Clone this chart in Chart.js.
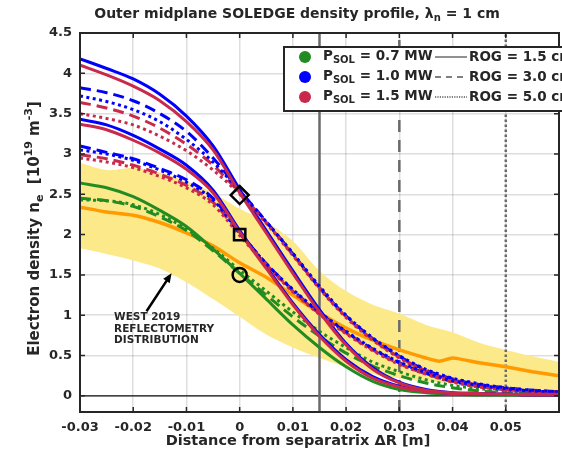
<!DOCTYPE html>
<html>
<head>
<meta charset="utf-8">
<script src="https://cdn.jsdelivr.net/npm/chart.js@4.4.1/dist/chart.umd.min.js"></script>
<style>
  html, body { margin: 0; padding: 0; background: #fff; }
  #wrap { width: 562px; height: 452px; position: relative; }
</style>
</head>
<body>
<div id="wrap"><canvas id="c" width="562" height="452"></canvas></div>
<script>
// x positions (m) of the simulated profiles
const xSim = [-0.03, -0.025, -0.02, -0.015, -0.01, -0.005, 0, 0.005, 0.01, 0.015, 0.02, 0.025, 0.03, 0.035, 0.04, 0.045, 0.05, 0.055, 0.06];

// P_SOL = 0.7 MW
const green15 = [2.64, 2.58, 2.47, 2.3, 2.1, 1.82, 1.52, 1.2, 0.88, 0.6, 0.36, 0.18, 0.08, 0.04, 0.02, 0.01, 0.01, 0.01, 0.01];
const green30 = [2.45, 2.42, 2.35, 2.22, 2.05, 1.8, 1.52, 1.25, 0.98, 0.74, 0.53, 0.37, 0.25, 0.16, 0.1, 0.06, 0.04, 0.03, 0.02];
const green50 = [2.43, 2.42, 2.37, 2.25, 2.07, 1.83, 1.56, 1.3, 1.04, 0.8, 0.6, 0.42, 0.3, 0.2, 0.13, 0.09, 0.06, 0.04, 0.03];

// P_SOL = 1.0 MW (upper set through the diamond, lower set through the square)
const blue15a = [4.18, 4.06, 3.93, 3.74, 3.47, 3.1, 2.56, 2.05, 1.55, 1.07, 0.65, 0.35, 0.17, 0.08, 0.04, 0.03, 0.02, 0.02, 0.02];
const blue30a = [3.82, 3.76, 3.66, 3.5, 3.28, 2.95, 2.55, 2.16, 1.76, 1.34, 0.99, 0.71, 0.49, 0.32, 0.21, 0.14, 0.1, 0.07, 0.05];
const blue50a = [3.72, 3.65, 3.55, 3.4, 3.18, 2.9, 2.54, 2.16, 1.77, 1.36, 1.0, 0.72, 0.5, 0.33, 0.22, 0.15, 0.1, 0.07, 0.05];
const blue15b = [3.43, 3.36, 3.23, 3.06, 2.86, 2.55, 2.05, 1.6, 1.15, 0.76, 0.45, 0.24, 0.12, 0.06, 0.03, 0.02, 0.02, 0.01, 0.01];
const blue30b = [3.1, 3.02, 2.94, 2.82, 2.68, 2.45, 2.03, 1.64, 1.31, 1.03, 0.79, 0.58, 0.41, 0.28, 0.18, 0.12, 0.08, 0.06, 0.05];
const blue50b = [3.05, 3.0, 2.92, 2.8, 2.65, 2.43, 2.02, 1.64, 1.32, 1.04, 0.8, 0.59, 0.42, 0.29, 0.19, 0.13, 0.09, 0.06, 0.05];

// P_SOL = 1.5 MW
const red15a = [4.1, 3.98, 3.84, 3.66, 3.4, 3.05, 2.52, 2.02, 1.52, 1.04, 0.63, 0.33, 0.16, 0.07, 0.04, 0.03, 0.02, 0.02, 0.02];
const red30a = [3.64, 3.57, 3.47, 3.32, 3.12, 2.86, 2.52, 2.15, 1.75, 1.34, 0.98, 0.7, 0.48, 0.31, 0.2, 0.13, 0.09, 0.06, 0.05];
const red50a = [3.5, 3.44, 3.36, 3.22, 3.04, 2.8, 2.5, 2.14, 1.74, 1.33, 0.97, 0.69, 0.47, 0.3, 0.19, 0.13, 0.09, 0.06, 0.05];
const red15b = [3.37, 3.3, 3.17, 3.01, 2.81, 2.52, 2.03, 1.58, 1.13, 0.74, 0.43, 0.22, 0.11, 0.05, 0.03, 0.02, 0.02, 0.01, 0.01];
const red30b = [2.99, 2.94, 2.86, 2.75, 2.61, 2.4, 2.01, 1.63, 1.3, 1.02, 0.78, 0.57, 0.4, 0.27, 0.18, 0.12, 0.08, 0.06, 0.05];
const red50b = [2.95, 2.9, 2.83, 2.72, 2.58, 2.37, 1.99, 1.62, 1.29, 1.01, 0.77, 0.56, 0.39, 0.27, 0.17, 0.11, 0.08, 0.06, 0.04];

// WEST 2019 reflectometry
const xRefl = [-0.03, -0.025, -0.02, -0.015, -0.01, -0.005, 0, 0.005, 0.01, 0.015, 0.02, 0.025, 0.03, 0.035, 0.0375, 0.04, 0.045, 0.05, 0.055, 0.06];
const reflMean = [2.34, 2.28, 2.24, 2.15, 2.02, 1.86, 1.65, 1.47, 1.25, 1.03, 0.84, 0.69, 0.57, 0.47, 0.43, 0.47, 0.41, 0.36, 0.3, 0.25];
const xBand = [-0.03, -0.025, -0.02, -0.015, -0.01, -0.005, 0, 0.005, 0.01, 0.015, 0.02, 0.025, 0.03, 0.035, 0.04, 0.045, 0.05, 0.055, 0.06];
const bandUpper = [2.89, 2.8, 2.83, 2.77, 2.66, 2.52, 2.32, 2.16, 1.92, 1.55, 1.3, 1.13, 1.02, 0.88, 0.79, 0.66, 0.57, 0.49, 0.42];
const bandLower = [1.83, 1.76, 1.68, 1.58, 1.41, 1.2, 0.98, 0.76, 0.6, 0.47, 0.36, 0.27, 0.22, 0.18, 0.15, 0.12, 0.1, 0.08, 0.06];

// separatrix density markers at x = 0
const markX = [0, 0, 0];
const markY = [2.49, 2.0, 1.5];
const markStyle = ['rectRot', 'rect', 'circle'];
const markSize = [9, 8, 7];

// ROG positions
const rogX = [0.015, 0.03, 0.05];

const xTicks = [-0.03, -0.02, -0.01, 0, 0.01, 0.02, 0.03, 0.04, 0.05];
const xTickLabels = ['-0.03', '-0.02', '-0.01', '0', '0.01', '0.02', '0.03', '0.04', '0.05'];
const yTicks = [0, 0.5, 1, 1.5, 2, 2.5, 3, 3.5, 4, 4.5];
const yTickLabels = ['0', '0.5', '1', '1.5', '2', '2.5', '3', '3.5', '4', '4.5'];

// arrow annotation (data coords)
const arrowFrom = [-0.0175, 1.05];
const arrowTo = [-0.0128, 1.52];
const noteLines = ['WEST 2019', 'REFLECTOMETRY', 'DISTRIBUTION'];

const GREEN = '#228b22', BLUE = '#0000ff', RED = '#c9294a', ORANGE = '#ff9b00', YELLOW = '#fce98a';
const FONT = "'DejaVu Sans', sans-serif";
const TXT = '#262626';
const SOLID = [], DASH = [11, 6], DOT = [3, 3.5];

const pts = (xs, ys) => xs.map((x, i) => ({ x, y: ys[i] }));
function curve(ys, color, dash, order) {
  return { data: pts(xSim, ys), borderColor: color, borderWidth: 3, borderDash: dash, borderCapStyle: 'butt',
    pointRadius: 0, tension: 0.35, cubicInterpolationMode: 'monotone', fill: false, order };
}

const datasets = [
  { data: pts(xBand, bandUpper), borderWidth: 0, pointRadius: 0, backgroundColor: YELLOW, fill: '+1', tension: 0.3, order: 100 },
  { data: pts(xBand, bandLower), borderWidth: 0, pointRadius: 0, fill: false, tension: 0.3, order: 101 },
  { data: [{ x: -0.03, y: 0 }, { x: 0.06, y: 0 }], borderColor: '#111', borderWidth: 1.2, pointRadius: 0, order: 90 },
  { data: [{ x: rogX[0], y: -0.2 }, { x: rogX[0], y: 4.5 }], borderColor: '#6a6a6a', borderWidth: 2.5, pointRadius: 0, order: 80 },
  { data: [{ x: rogX[1], y: -0.2 }, { x: rogX[1], y: 4.5 }], borderColor: '#6a6a6a', borderWidth: 2.5, borderDash: [12, 8], pointRadius: 0, order: 80 },
  { data: [{ x: rogX[2], y: -0.2 }, { x: rogX[2], y: 4.5 }], borderColor: '#6a6a6a', borderWidth: 2.5, borderDash: [2.5, 2.5], pointRadius: 0, order: 80 },
  { data: pts(xRefl, reflMean), borderColor: ORANGE, borderWidth: 3.5, pointRadius: 0, tension: 0.2, fill: false, order: 60 },
  curve(green15, GREEN, SOLID, 40), curve(green30, GREEN, DASH, 41), curve(green50, GREEN, DOT, 42),
  curve(blue15a, BLUE, SOLID, 30), curve(blue30a, BLUE, DASH, 31), curve(blue50a, BLUE, DOT, 22),
  curve(blue15b, BLUE, SOLID, 30), curve(blue30b, BLUE, DASH, 31), curve(blue50b, BLUE, DOT, 22),
  curve(red15a, RED, SOLID, 20), curve(red30a, RED, DASH, 25), curve(red50a, RED, DOT, 26),
  curve(red15b, RED, SOLID, 20), curve(red30b, RED, DASH, 25), curve(red50b, RED, DOT, 26),
  { data: pts(markX, markY), showLine: false, pointStyle: markStyle, pointRadius: markSize,
    pointBorderColor: '#000', pointBorderWidth: 2.5, pointBackgroundColor: 'rgba(0,0,0,0)', order: 1 },
];

// draw text with sub/superscripts: parts = [[text, 'n'|'sub'|'sup'], ...]
function richWidth(ctx, parts, size) {
  let w = 0;
  for (const [t, k] of parts) { ctx.font = `bold ${k === 'n' ? size : Math.round(size * 0.72)}px ${FONT}`; w += ctx.measureText(t).width; }
  return w;
}
function drawRich(ctx, parts, x, y, size, align) {
  let cx = align === 'center' ? x - richWidth(ctx, parts, size) / 2 : x;
  ctx.textBaseline = 'middle'; ctx.textAlign = 'left';
  for (const [t, k] of parts) {
    const s = k === 'n' ? size : Math.round(size * 0.72);
    ctx.font = `bold ${s}px ${FONT}`;
    const dy = k === 'sub' ? size * 0.35 : k === 'sup' ? -size * 0.38 : 0;
    ctx.fillText(t, cx, y + dy);
    cx += ctx.measureText(t).width;
  }
}

const decor = {
  id: 'decor',
  afterDraw(chart) {
    const { ctx, chartArea: a, scales: { x, y } } = chart;
    ctx.save();
    ctx.fillStyle = TXT; ctx.strokeStyle = TXT;
    // inward ticks
    ctx.lineWidth = 1.5;
    for (const v of xTicks) {
      const px = x.getPixelForValue(v);
      ctx.beginPath(); ctx.moveTo(px, a.bottom); ctx.lineTo(px, a.bottom - 5); ctx.moveTo(px, a.top); ctx.lineTo(px, a.top + 5); ctx.stroke();
    }
    for (const v of yTicks) {
      const py = y.getPixelForValue(v);
      ctx.beginPath(); ctx.moveTo(a.left, py); ctx.lineTo(a.left + 5, py); ctx.moveTo(a.right, py); ctx.lineTo(a.right - 5, py); ctx.stroke();
    }
    // box
    ctx.lineWidth = 2;
    ctx.strokeRect(a.left, a.top, a.right - a.left, a.bottom - a.top);

    // title
    drawRich(ctx, [['Outer midplane SOLEDGE density profile, \u03bb', 'n'], ['n', 'sub'], [' = 1 cm', 'n']], 297, 14, 14, 'center');
    // x title
    drawRich(ctx, [['Distance from separatrix \u0394R [m]', 'n']], 298, 441, 14.5, 'center');
    // y title
    ctx.save();
    ctx.translate(35, (a.top + a.bottom) / 2 + 6);
    ctx.rotate(-Math.PI / 2);
    drawRich(ctx, [['Electron density n', 'n'], ['e', 'sub'], ['  [10', 'n'], ['19', 'sup'], [' m', 'n'], ['-3', 'sup'], [']', 'n']], 0, 0, 15, 'center');
    ctx.restore();

    // arrow + note
    const ax0 = x.getPixelForValue(arrowFrom[0]), ay0 = y.getPixelForValue(arrowFrom[1]);
    const ax1 = x.getPixelForValue(arrowTo[0]), ay1 = y.getPixelForValue(arrowTo[1]);
    const ang = Math.atan2(ay1 - ay0, ax1 - ax0);
    ctx.fillStyle = '#000'; ctx.strokeStyle = '#000'; ctx.lineWidth = 2.5;
    ctx.beginPath(); ctx.moveTo(ax0, ay0); ctx.lineTo(ax1 - 7 * Math.cos(ang), ay1 - 7 * Math.sin(ang)); ctx.stroke();
    ctx.beginPath(); ctx.moveTo(ax1, ay1);
    ctx.lineTo(ax1 - 10 * Math.cos(ang - 0.4), ay1 - 10 * Math.sin(ang - 0.4));
    ctx.lineTo(ax1 - 10 * Math.cos(ang + 0.4), ay1 - 10 * Math.sin(ang + 0.4));
    ctx.closePath(); ctx.fill();
    ctx.fillStyle = TXT;
    noteLines.forEach((t, i) => {
      ctx.font = `bold 10.5px ${FONT}`; ctx.textAlign = 'left'; ctx.textBaseline = 'middle';
      ctx.fillText(t, x.getPixelForValue(-0.0236), y.getPixelForValue(0.97) + i * 11.5);
    });

    // legend
    const lx = 284, ly = 47;
    ctx.fillStyle = '#fff';
    ctx.fillRect(lx, ly, 300, 64);
    ctx.lineWidth = 2; ctx.strokeStyle = TXT;
    ctx.strokeRect(lx, ly, 300, 64);
    const powers = [['0.7', GREEN], ['1.0', BLUE], ['1.5', RED]];
    const rogs = [['1.5', SOLID], ['3.0', [6, 5]], ['5.0', [1.2, 1.2]]];
    powers.forEach(([p, col], i) => {
      const ry = 57 + i * 20;
      ctx.fillStyle = col;
      ctx.beginPath(); ctx.arc(305, ry, 6, 0, Math.PI * 2); ctx.fill();
      ctx.fillStyle = TXT;
      drawRich(ctx, [['P', 'n'], ['SOL', 'sub'], [' = ' + p + ' MW', 'n']], 323, ry - 1, 13.5, 'left');
      ctx.strokeStyle = '#555'; ctx.lineWidth = 1.3; ctx.setLineDash(rogs[i][1]);
      ctx.beginPath(); ctx.moveTo(435, ry); ctx.lineTo(467, ry); ctx.stroke();
      ctx.setLineDash([]);
      drawRich(ctx, [['ROG = ' + rogs[i][0] + ' cm', 'n']], 469, ry, 13.5, 'left');
    });
    ctx.restore();
  }
};

new Chart(document.getElementById('c'), {
  type: 'line',
  data: { datasets },
  plugins: [decor],
  options: {
    responsive: false, animation: false, devicePixelRatio: 1,
    layout: { autoPadding: false, padding: { top: 33, right: 3, left: 0, bottom: 0 } },
    plugins: { legend: { display: false }, tooltip: { enabled: false }, title: { display: false } },
    scales: {
      x: {
        type: 'linear', min: -0.03, max: 0.06,
        afterBuildTicks: s => { s.ticks = xTicks.map(v => ({ value: v })); },
        afterFit: s => { s.height = 40; s.paddingLeft = 0; s.paddingRight = 0; },
        ticks: { callback: (v, i) => xTickLabels[i], font: { family: FONT, size: 13, weight: 'bold' }, color: TXT, padding: 8, maxRotation: 0, autoSkip: false },
        grid: { color: 'rgba(0,0,0,0.13)', lineWidth: 1.5, drawTicks: false },
        border: { display: false },
      },
      y: {
        type: 'linear', min: -0.2, max: 4.5,
        afterBuildTicks: s => { s.ticks = yTicks.map(v => ({ value: v })); },
        afterFit: s => { s.width = 80; s.paddingTop = 0; s.paddingBottom = 0; },
        ticks: { callback: (v, i) => yTickLabels[i], font: { family: FONT, size: 13, weight: 'bold' }, color: TXT, padding: 8, autoSkip: false },
        grid: { color: 'rgba(0,0,0,0.13)', lineWidth: 1.5, drawTicks: false },
        border: { display: false },
      },
    },
  },
});
</script>
</body>
</html>
